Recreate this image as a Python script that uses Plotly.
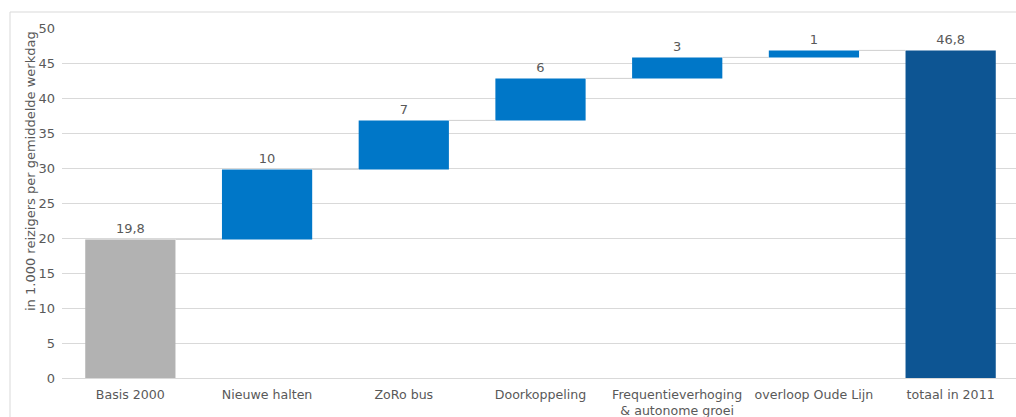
import plotly.graph_objects as go

# Ridership build-up 2000 -> 2011 (x 1,000 travellers per average weekday)
categories = ["Basis 2000", "Nieuwe halten", "ZoRo bus", "Doorkoppeling",
              "Frequentieverhoging<br>& autonome groei", "overloop Oude Lijn", "totaal in 2011"]
steps = [19.8, 10, 7, 6, 3, 1]
total = 46.8
labels = ["19,8", "10", "7", "6", "3", "1", "46,8"]
y_ticks = [0, 5, 10, 15, 20, 25, 30, 35, 40, 45, 50]
y_title = "in 1.000 reizigers per gemiddelde werkdag"

GREY = "#b2b2b2"
BLUE = "#0077c8"
DARK = "#0d5593"
TEXT = "#595959"
GRID = "#d9d9d9"

# bases and heights for the floating bars
bases, heights, running = [], [], 0.0
for i, s in enumerate(steps):
    bases.append(0 if i == 0 else running)
    heights.append(s)
    running += s
bases.append(0)
heights.append(total)
colors = [GREY] + [BLUE] * (len(steps) - 1) + [DARK]

xs = list(range(len(categories)))
bar_w = 0.66

fig = go.Figure()

# connector lines between consecutive bar tops
tops = [b + h for b, h in zip(bases, heights)]
cx, cy = [], []
for i in range(len(categories) - 1):
    cx += [xs[i] + bar_w / 2, xs[i + 1] - bar_w / 2, None]
    cy += [tops[i], tops[i], None]
fig.add_trace(go.Scatter(x=cx, y=cy, mode="lines",
                         line=dict(color="#cfcfcf", width=1),
                         hoverinfo="skip", showlegend=False))

fig.add_trace(go.Bar(
    x=xs, y=heights, base=bases, width=bar_w,
    marker=dict(color=colors, line=dict(width=0)),
    text=labels, textposition="outside", cliponaxis=False,
    textfont=dict(family="DejaVu Sans", size=13, color=TEXT),
    showlegend=False,
))

fig.update_layout(
    width=1016, height=417,
    margin=dict(l=62, r=0, t=28, b=39),
    paper_bgcolor="white", plot_bgcolor="white",
    font=dict(family="DejaVu Sans", size=12, color=TEXT),
    xaxis=dict(
        tickmode="array", tickvals=xs, ticktext=categories,
        range=[-0.5, len(categories) - 0.5 - 3 / 136.7],
        showgrid=False, zeroline=False, showline=False,
        ticks="", ticklabelstandoff=7,
        tickfont=dict(size=12.6, color=TEXT),
    ),
    yaxis=dict(
        range=[0, 50], tickvals=y_ticks,
        showgrid=True, gridcolor=GRID, gridwidth=1,
        zeroline=True, zerolinecolor=GRID, zerolinewidth=1,
        showline=False, ticks="", ticklabelstandoff=6,
        tickfont=dict(size=13, color=TEXT),
    ),
    annotations=[dict(text=y_title, xref="paper", yref="paper",
                      x=-32 / 954, y=207 / 350, xanchor="center", yanchor="middle",
                      textangle=-90, showarrow=False,
                      font=dict(size=13, color=TEXT))],
    shapes=[dict(type="rect", xref="paper", yref="paper",
                 x0=-52 / 954, x1=1.1, y0=-0.2, y1=1 + 16 / 350,
                 line=dict(color=GRID, width=1), fillcolor="rgba(0,0,0,0)",
                 layer="below")],
)

fig.write_html("out.html")
